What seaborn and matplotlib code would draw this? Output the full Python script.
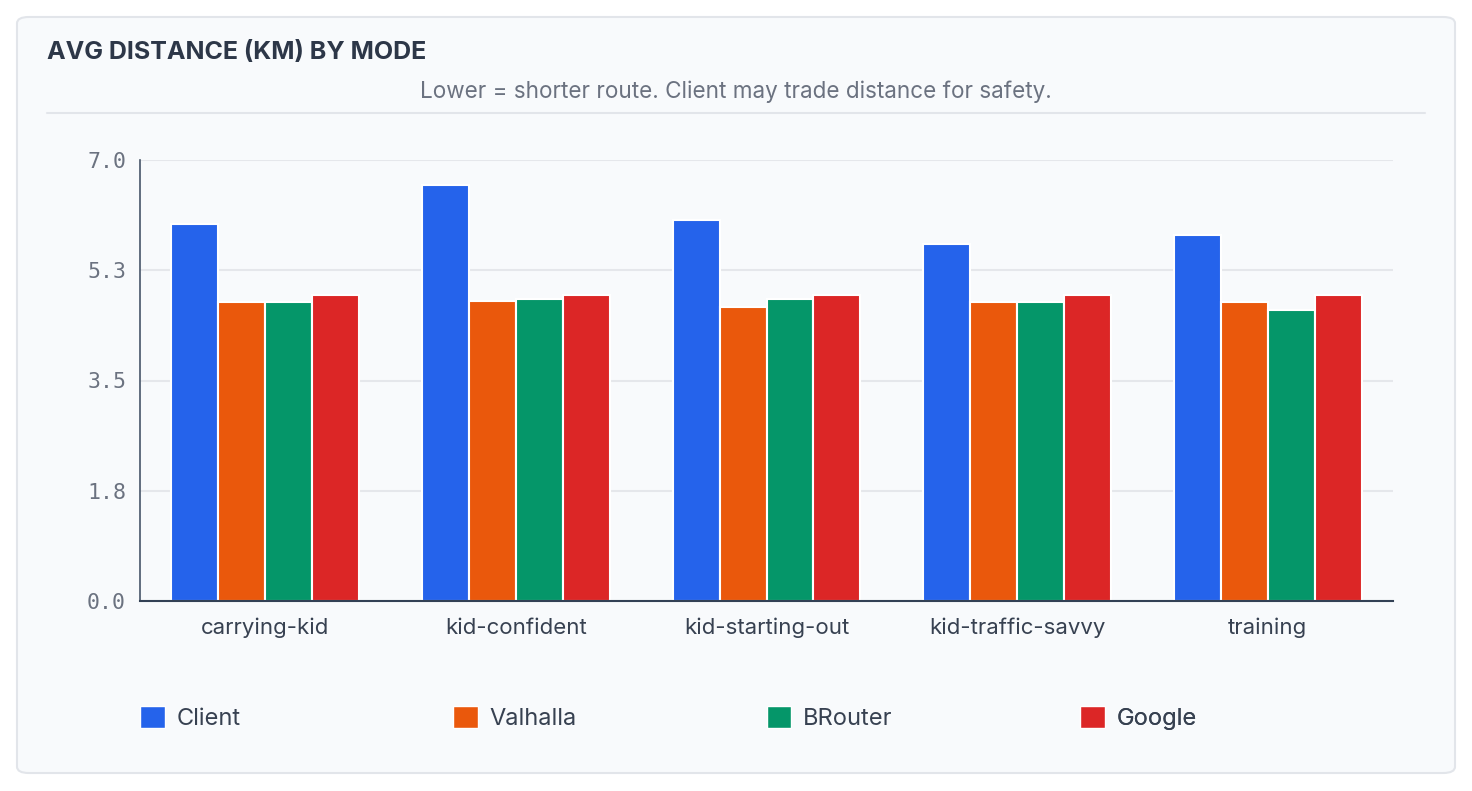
import matplotlib.pyplot as plt
import matplotlib.patches as mpatches
import seaborn as sns
import pandas as pd

# Datos del gráfico
modes = ["carrying-kid", "kid-confident", "kid-starting-out", "kid-traffic-savvy", "training"]
engines = ["Client", "Valhalla", "BRouter", "Google"]
client = [5.99, 6.61, 6.04, 5.66, 5.81]
valhalla = [4.74, 4.76, 4.67, 4.74, 4.74]
brouter = [4.75, 4.79, 4.79, 4.75, 4.62]
google = [4.85, 4.85, 4.85, 4.85, 4.85]
yticks = [0.0, 1.75, 3.5, 5.25, 7.0]
ytick_labels = ["0.0", "1.8", "3.5", "5.3", "7.0"]
colors = ["#2563eb", "#ea580c", "#059669", "#dc2626"]

df = pd.DataFrame({
    "mode": modes * 4,
    "engine": [e for e in engines for _ in modes],
    "km": client + valhalla + brouter + google,
})

sns.set_style("white")
plt.rcParams["font.family"] = ["Inter", "DejaVu Sans"]

W, H = 1472, 791
fig = plt.figure(figsize=(W / 100, H / 100), dpi=100)
fig.patch.set_facecolor("white")

# Tarjeta de fondo
card = mpatches.FancyBboxPatch((17 / W, 1 - 773 / H), (1455 - 17) / W, (773 - 17) / H,
                               boxstyle="round,pad=0,rounding_size=0.008",
                               transform=fig.transFigure, facecolor="#f8fafc",
                               edgecolor="#e2e5ea", linewidth=1.5, zorder=-10)
fig.patches.append(card)

fig.text(47 / W, 1 - 52 / H, "AVG DISTANCE (KM) BY MODE", fontsize=18, fontweight="bold",
         color="#2d3748", va="center", ha="left")
fig.text(736 / W, 1 - 92 / H, "Lower = shorter route. Client may trade distance for safety.",
         fontsize=16.2, color="#6b7280", va="center", ha="center")
fig.add_artist(plt.Line2D([47 / W, 1425 / W], [1 - 113 / H] * 2, color="#e2e5ea",
                          linewidth=1.5, transform=fig.transFigure))

ax = fig.add_axes([140 / W, 1 - 601 / H, (1393 - 140) / W, (601 - 160) / H])
ax.set_facecolor("#f8fafc")

sns.barplot(data=df, x="mode", y="km", hue="engine", palette=colors, saturation=1, width=0.75,
            edgecolor="white", linewidth=1.5, ax=ax, legend=False)

ax.set_ylim(0, 7.0)
ax.set_xlim(-0.5, 4.5)
ax.set_yticks(yticks)
ax.set_yticklabels(ytick_labels, family="DejaVu Sans Mono", fontsize=15.5, color="#6b7280")
ax.tick_params(axis="x", length=0, pad=12, labelsize=16, labelcolor="#374151")
ax.tick_params(axis="y", length=0, pad=10)
ax.set_xlabel("")
ax.set_ylabel("")
ax.grid(axis="y", color="#e5e7eb", linewidth=1.5)
ax.set_axisbelow(True)
for side in ["top", "right"]:
    ax.spines[side].set_visible(False)
ax.spines["left"].set_color("#475569")
ax.spines["bottom"].set_color("#334155")
ax.spines["left"].set_linewidth(1.2)
ax.spines["bottom"].set_linewidth(1.5)

# Leyenda en 4 columnas iguales
for i, (c, e) in enumerate(zip(colors, engines)):
    leg = ax.legend(handles=[mpatches.Patch(facecolor=c, label=e)], loc="center left",
                    bbox_to_anchor=(i / 4, -0.265), frameon=False, fontsize=17,
                    handlelength=1.05, handleheight=1.05, handletextpad=0.5,
                    borderpad=0, borderaxespad=0, labelcolor="#374151")
    ax.add_artist(leg)

fig.savefig("out.png", dpi=100, facecolor="white")
